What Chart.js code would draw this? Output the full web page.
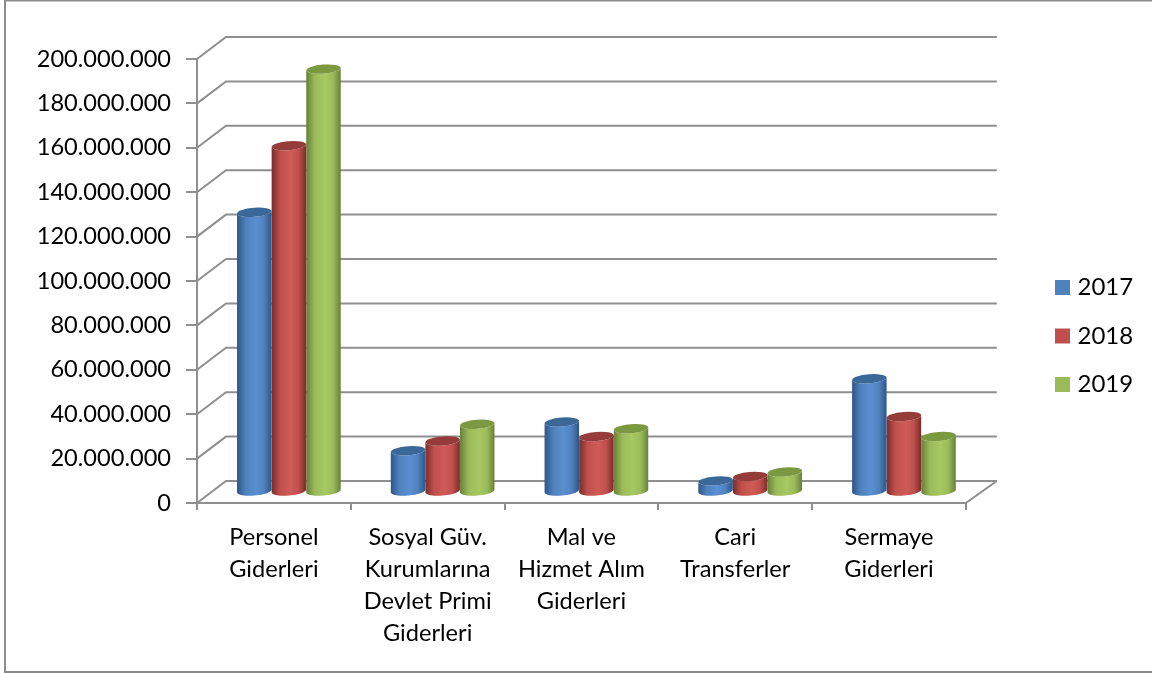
<!DOCTYPE html>
<html>
<head>
<meta charset="utf-8">
<title>Giderler</title>
<script src="https://cdn.jsdelivr.net/npm/chart.js@4"></script>
<style>
html, body { margin: 0; padding: 0; background: #fff; }
canvas { display: block; }
</style>
</head>
<body>
<canvas id="giderChart" width="1152" height="673"></canvas>
<script>
const categories = [
    ['Personel', 'Giderleri'],
    ['Sosyal Güv.', 'Kurumlarına', 'Devlet Primi', 'Giderleri'],
    ['Mal ve', 'Hizmet Alım', 'Giderleri'],
    ['Cari', 'Transferler'],
    ['Sermaye', 'Giderleri']
];
const years = ['2017', '2018', '2019'];
const values2017 = [126000000, 18600000, 31500000, 5000000, 51000000];
const values2018 = [156000000, 23000000, 25000000, 7000000, 34000000];
const values2019 = [190500000, 30500000, 28500000, 9000000, 25000000];

const legendColors = ['#4f81bd', '#c0504d', '#9bbb59'];
// edge, middle, highlight, top cap
const shades = [
    ['#2c5687', '#4f81bd', '#5a8fd0', '#3a6899'],
    ['#7a2c2a', '#c0504d', '#cf5b58', '#953c3a'],
    ['#66803a', '#9bbb59', '#a6c962', '#7a9940']
];

const DEPTH_X = 29, DEPTH_Y = 22;
const GRID = '#8f8f8f';
const FONT = 'Lato, Carlito, sans-serif';

function formatTick(v) {
    return String(v).replace(/\B(?=(\d{3})+(?!\d))/g, '.');
}

// Frame, back walls and floor
const wallPlugin = {
    id: 'walls',
    beforeDraw(chart) {
        const c = chart.ctx;
        c.save();
        c.fillStyle = '#fff';
        c.fillRect(0, 0, chart.width, chart.height);
        c.strokeStyle = '#8c8c8c';
        c.lineWidth = 2;
        c.strokeRect(5, 0.5, 1160, 671.5);
        c.restore();
    },
    beforeDatasetsDraw(chart) {
        const c = chart.ctx, a = chart.chartArea, y = chart.scales.y;
        c.save();
        c.strokeStyle = GRID;
        c.lineWidth = 2;
        y.ticks.forEach(t => {
            const py = y.getPixelForValue(t.value);
            c.beginPath();
            c.moveTo(a.left, py);
            c.lineTo(a.left + DEPTH_X, py - DEPTH_Y);
            c.lineTo(a.right + DEPTH_X + 2, py - DEPTH_Y);
            c.stroke();
        });
        c.beginPath();
        c.moveTo(a.left, a.top);
        c.lineTo(a.left, a.bottom);
        c.lineTo(a.right, a.bottom);
        c.lineTo(a.right + DEPTH_X + 2, a.bottom - DEPTH_Y);
        c.stroke();
        c.restore();
    },
    // bars are drawn as cylinders from the bar elements
    beforeDatasetDraw(chart, args) {
        const c = chart.ctx;
        const meta = chart.getDatasetMeta(args.index);
        const s = shades[args.index];
        const ry = 4.5, tilt = -0.08;
        meta.data.forEach(bar => {
            const x = bar.x + DEPTH_X / 2 + 0.5;
            const top = bar.y - DEPTH_Y / 2;
            const base = bar.base - DEPTH_Y / 2;
            const rx = bar.width / 2;
            const g = c.createLinearGradient(x - rx, 0, x + rx, 0);
            g.addColorStop(0, s[0]);
            g.addColorStop(0.25, s[1]);
            g.addColorStop(0.55, s[2]);
            g.addColorStop(0.78, s[1]);
            g.addColorStop(1, s[0]);
            c.save();
            c.fillStyle = g;
            c.beginPath();
            c.ellipse(x, base, rx, ry, tilt, 0, Math.PI);
            c.ellipse(x, top, rx, ry, tilt, Math.PI, 0, true);
            c.closePath();
            c.fill();
            c.fillStyle = s[3];
            c.beginPath();
            c.ellipse(x, top, rx, ry, tilt, 0, Math.PI * 2);
            c.fill();
            c.restore();
        });
        return false;
    },
    afterLayout(chart) {
        // legend sits further right than the plot leaves room for
        chart.legend.left = 1035;
        chart.legend.right = 1152;
        chart.legend.top = 251;
    }
};

new Chart(document.getElementById('giderChart'), {
    type: 'bar',
    plugins: [wallPlugin],
    data: {
        labels: categories,
        datasets: [
            // wide border only thickens the legend swatch, so the text sits close to it
            { label: years[0], data: values2017, backgroundColor: legendColors[0], borderColor: legendColors[0], borderWidth: 9 },
            { label: years[1], data: values2018, backgroundColor: legendColors[1], borderColor: legendColors[1], borderWidth: 9 },
            { label: years[2], data: values2019, backgroundColor: legendColors[2], borderColor: legendColors[2], borderWidth: 9 }
        ]
    },
    options: {
        responsive: false,
        animation: false,
        layout: { padding: { top: 59, right: 78, bottom: 20, left: 0 } },
        datasets: { bar: { categoryPercentage: 0.675, barPercentage: 1 } },
        plugins: {
            tooltip: { enabled: false },
            legend: {
                position: 'right',
                align: 'start',
                labels: {
                    boxWidth: 6,
                    boxHeight: 6,
                    padding: 24.5,
                    color: '#000',
                    font: { family: FONT, size: 24 }
                }
            }
        },
        scales: {
            x: {
                afterFit(scale) { scale.height = 150; },
                grid: { drawOnChartArea: false, color: GRID, lineWidth: 2, tickLength: 7, offset: true },
                border: { display: false },
                ticks: {
                    color: '#000',
                    padding: 11,
                    maxRotation: 0,
                    autoSkip: false,
                    font: { family: FONT, size: 23.6, lineHeight: 1.36 }
                }
            },
            y: {
                min: 0,
                max: 200000000,
                afterFit(scale) { scale.width = 197; },
                grid: { drawOnChartArea: false, color: GRID, lineWidth: 2, tickLength: 11 },
                border: { display: false },
                ticks: {
                    stepSize: 20000000,
                    color: '#000',
                    padding: 15,
                    font: { family: FONT, size: 23.6 },
                    callback: formatTick
                }
            }
        }
    }
});
</script>
</body>
</html>
